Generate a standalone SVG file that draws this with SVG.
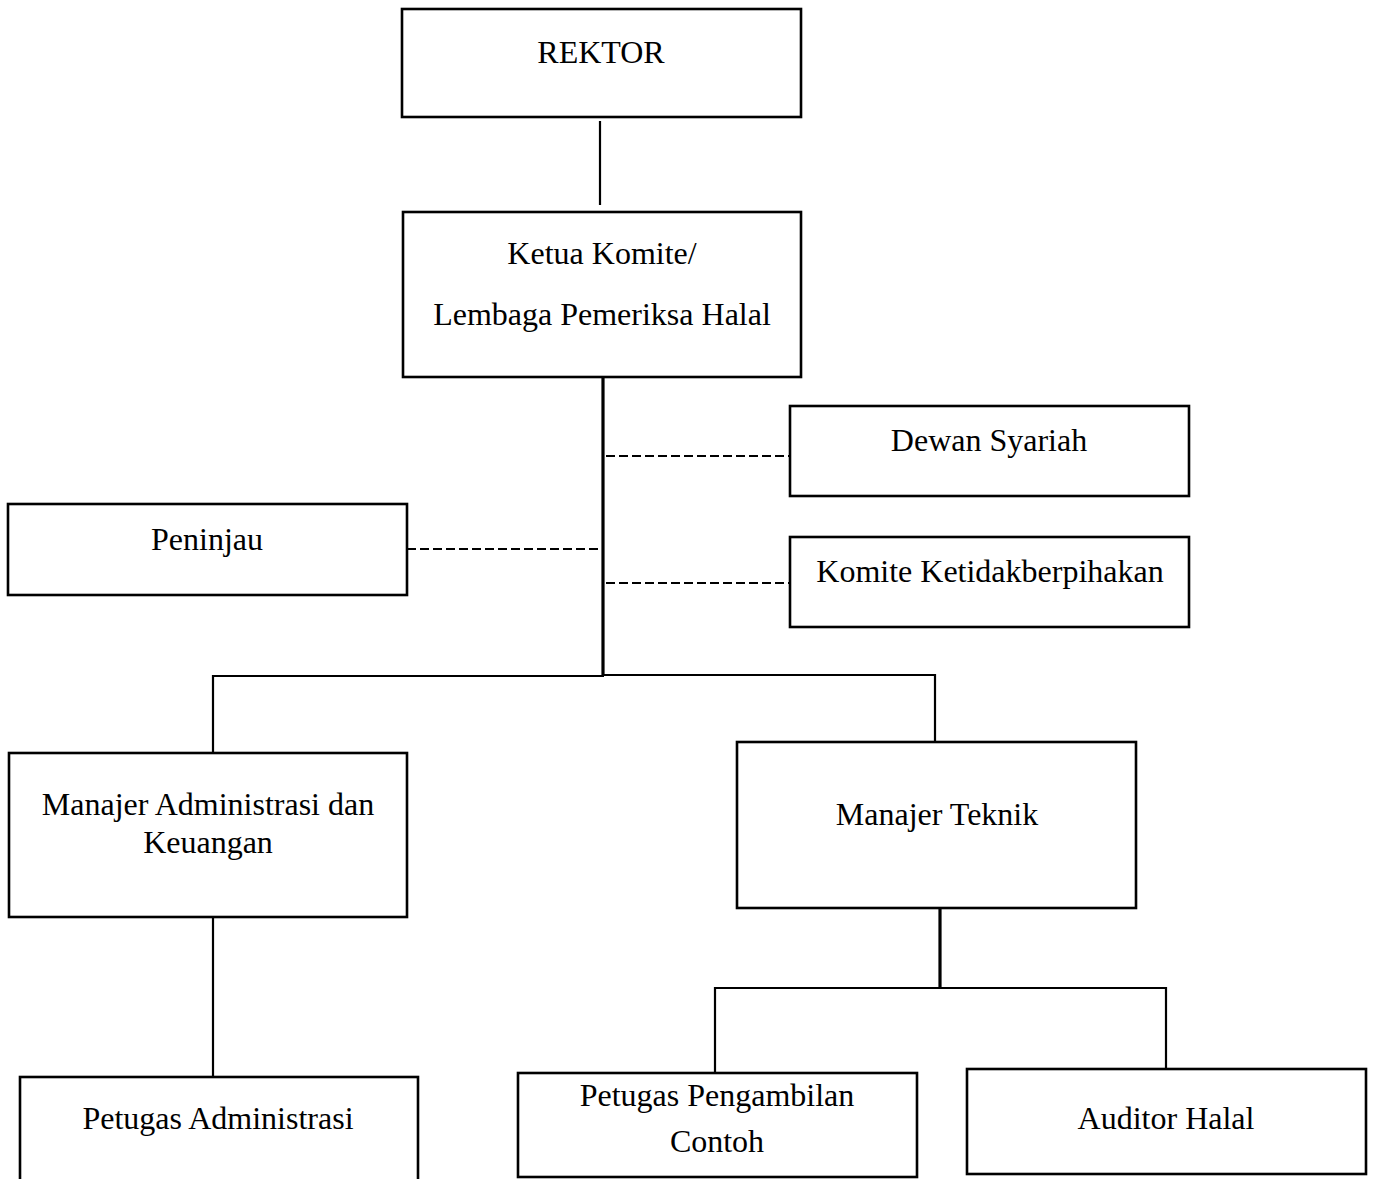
<svg xmlns="http://www.w3.org/2000/svg" width="1374" height="1179" viewBox="0 0 1374 1179">
<style>
.box{fill:#fff;stroke:#000;stroke-width:2.6}
.t{font-family:"Liberation Serif","Times New Roman",serif;font-size:32px;fill:#000;text-anchor:middle}
.ln{fill:none;stroke:#000;stroke-width:2.2}
.thick{fill:none;stroke:#000;stroke-width:3.2}
.dash{fill:none;stroke:#000;stroke-width:2.2;stroke-dasharray:9 4}
</style>
<rect width="1374" height="1179" fill="#fff"/>
<g id="connectors">
<line class="ln" x1="600" y1="121" x2="600" y2="205"/>
<line class="thick" x1="603" y1="377" x2="603" y2="676"/>
<line class="dash" x1="606" y1="456" x2="790" y2="456"/>
<line class="dash" x1="407" y1="549" x2="601" y2="549"/>
<line class="dash" x1="606" y1="583" x2="790" y2="583"/>
<polyline class="ln" points="213,753 213,676 604,676"/>
<polyline class="ln" points="602,675 935,675 935,742"/>
<line class="ln" x1="213" y1="917" x2="213" y2="1077"/>
<line class="thick" x1="940" y1="908" x2="940" y2="989"/>
<polyline class="ln" points="715,1073 715,988 1166,988 1166,1069"/>
</g>
<g id="rektor"><rect class="box" x="402" y="9" width="399" height="108"/><text class="t" x="601" y="63">REKTOR</text></g>
<g id="ketua"><rect class="box" x="403" y="212" width="398" height="165"/><text class="t" x="602" y="264">Ketua Komite/</text><text class="t" x="602" y="325">Lembaga Pemeriksa Halal</text></g>
<g id="dewan"><rect class="box" x="790" y="406" width="399" height="90"/><text class="t" x="989" y="451">Dewan Syariah</text></g>
<g id="peninjau"><rect class="box" x="8" y="504" width="399" height="91"/><text class="t" x="207" y="550">Peninjau</text></g>
<g id="komite"><rect class="box" x="790" y="537" width="399" height="90"/><text class="t" x="990" y="582">Komite Ketidakberpihakan</text></g>
<g id="manajer-admin"><rect class="box" x="9" y="753" width="398" height="164"/><text class="t" x="208" y="815">Manajer Administrasi dan</text><text class="t" x="208" y="853">Keuangan</text></g>
<g id="manajer-teknik"><rect class="box" x="737" y="742" width="399" height="166"/><text class="t" x="937" y="825">Manajer Teknik</text></g>
<g id="petugas-admin"><rect class="box" x="20" y="1077" width="398" height="115"/><text class="t" x="218" y="1129">Petugas Administrasi</text></g>
<g id="petugas-pengambilan"><rect class="box" x="518" y="1073" width="399" height="104"/><text class="t" x="717" y="1106">Petugas Pengambilan</text><text class="t" x="717" y="1152">Contoh</text></g>
<g id="auditor"><rect class="box" x="967" y="1069" width="399" height="105"/><text class="t" x="1166" y="1129">Auditor Halal</text></g>
</svg>
